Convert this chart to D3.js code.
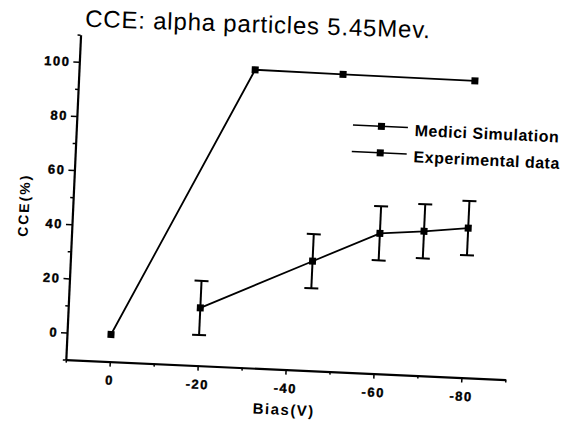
<!DOCTYPE html>
<html>
<head>
<meta charset="utf-8">
<script src="https://cdn.jsdelivr.net/npm/d3@7"></script>
<style>
  body { margin: 0; background: #fff; }
  svg { display: block; }
  .tick text { font-family: "Liberation Sans", Arial, sans-serif; font-weight: bold; font-size: 13px; letter-spacing: 1.5px; stroke: #000; stroke-width: 0.4px; }
</style>
</head>
<body>
<svg width="567" height="422"></svg>
<script>
// values
const simBias = [ 0, -30, -50, -80 ];
const simCCE = [ 0, 100, 99.8, 99.6 ];
const expBias = [ -20, -45, -60, -70, -80 ];
const expCCE = [ 11.3, 30.4, 41.8, 43.3, 45.2 ];
const expErr = [ 10, 10, 10, 10, 10 ];
const xTicks = [ 0, -20, -40, -60, -80 ];
const xMinor = [ 10, -10, -30, -50, -70, -90 ];
const yTicks = [ 0, 20, 40, 60, 80, 100 ];
const yMinor = [ -10, 10, 30, 50, 70, 90, 110 ];
const legendLabels = [ 'Medici Simulation', 'Experimental data' ];

const svgWidth = 567;
const svgHeight = 422;
const tilt = 2.6;   // the scan is a little crooked

const svg = d3.select( 'svg' );

// title sits on its own slant
svg.append( 'text' )
  .attr( 'x', 85 )
  .attr( 'y', 26.7 )
  .attr( 'transform', 'rotate(1.9, 85, 26.7)' )
  .style( 'font-family', '"Liberation Sans", Arial, sans-serif' )
  .style( 'font-size', '24px' )
  .style( 'letter-spacing', '0.8px' )
  .text( 'CCE: alpha particles 5.45Mev.' );

const g = svg.append( 'g' )
  .attr( 'transform', 'rotate(' + tilt + ', 283, 211)' );

const x = d3.scaleLinear().domain( [ 10, -90 ] ).range( [ 72.8, 512.8 ] );
const y = d3.scaleLinear().domain( [ -10, 110 ] ).range( [ 369.3, 44.1 ] );

// plain hyphen like the original, not the unicode minus
const plain = d => String( d );

// minor ticks first, then the labelled ones
g.append( 'g' )
  .attr( 'transform', 'translate(0,' + y( -10 ) + ')' )
  .call( d3.axisBottom( x ).tickValues( xMinor ).tickSize( 3 ).tickFormat( '' ) )
  .call( a => a.select( '.domain' ).remove() )
  .selectAll( 'line' ).attr( 'stroke-width', 1.5 );

g.append( 'g' )
  .attr( 'transform', 'translate(' + x( 10 ) + ',0)' )
  .call( d3.axisLeft( y ).tickValues( yMinor ).tickSize( 3 ).tickFormat( '' ) )
  .call( a => a.select( '.domain' ).remove() )
  .selectAll( 'line' ).attr( 'stroke-width', 1.5 );

const xAxis = g.append( 'g' )
  .attr( 'transform', 'translate(0,' + y( -10 ) + ')' )
  .call( d3.axisBottom( x ).tickValues( xTicks ).tickFormat( plain ).tickSize( 5 ).tickSizeOuter( 0 ).tickPadding( 9 ) );
xAxis.select( '.domain' ).attr( 'stroke-width', 2.2 );
xAxis.selectAll( 'line' ).attr( 'stroke-width', 1.5 );

const yAxis = g.append( 'g' )
  .attr( 'transform', 'translate(' + x( 10 ) + ',0)' )
  .call( d3.axisLeft( y ).tickValues( yTicks ).tickFormat( plain ).tickSize( 6 ).tickSizeOuter( 0 ).tickPadding( 3 ) );
yAxis.select( '.domain' ).attr( 'stroke-width', 2.2 );
yAxis.selectAll( 'line' ).attr( 'stroke-width', 1.5 );

// axis titles
g.append( 'text' )
  .attr( 'x', ( x( 10 ) + x( -90 ) ) / 2 )
  .attr( 'y', 414.7 )
  .attr( 'text-anchor', 'middle' )
  .style( 'font-family', '"Liberation Sans", Arial, sans-serif' )
  .style( 'font-weight', 'bold' )
  .style( 'font-size', '15px' )
  .style( 'letter-spacing', '1.5px' )
  .text( 'Bias(V)' );

g.append( 'text' )
  .attr( 'transform', 'translate(29,217) rotate(-90)' )
  .attr( 'text-anchor', 'middle' )
  .style( 'font-family', '"Liberation Sans", Arial, sans-serif' )
  .style( 'font-weight', 'bold' )
  .style( 'font-size', '14px' )
  .style( 'letter-spacing', '2px' )
  .text( 'CCE(%)' );

const sim = simBias.map( ( d, i ) => ( { bias: d, cce: simCCE[ i ] } ) );
const exp = expBias.map( ( d, i ) => ( { bias: d, cce: expCCE[ i ], err: expErr[ i ] } ) );

const line = d3.line()
  .x( d => x( d.bias ) )
  .y( d => y( d.cce ) );

// error bars
const bars = g.selectAll( '.err' )
  .data( exp )
  .join( 'g' )
  .attr( 'class', 'err' )
  .attr( 'stroke', '#000' )
  .attr( 'stroke-width', 2 );
bars.append( 'line' )
  .attr( 'x1', d => x( d.bias ) ).attr( 'x2', d => x( d.bias ) )
  .attr( 'y1', d => y( d.cce - d.err ) ).attr( 'y2', d => y( d.cce + d.err ) );
bars.append( 'line' )
  .attr( 'x1', d => x( d.bias ) - 7 ).attr( 'x2', d => x( d.bias ) + 7 )
  .attr( 'y1', d => y( d.cce + d.err ) ).attr( 'y2', d => y( d.cce + d.err ) );
bars.append( 'line' )
  .attr( 'x1', d => x( d.bias ) - 7 ).attr( 'x2', d => x( d.bias ) + 7 )
  .attr( 'y1', d => y( d.cce - d.err ) ).attr( 'y2', d => y( d.cce - d.err ) );

[ sim, exp ].forEach( series => {
  g.append( 'path' )
    .datum( series )
    .attr( 'fill', 'none' )
    .attr( 'stroke', '#000' )
    .attr( 'stroke-width', 1.8 )
    .attr( 'd', line );

  g.selectAll( null )
    .data( series )
    .join( 'rect' )
    .attr( 'x', d => x( d.bias ) - 3.5 )
    .attr( 'y', d => y( d.cce ) - 3.5 )
    .attr( 'width', 7 )
    .attr( 'height', 7 )
    .attr( 'fill', '#000' );
} );

// legend
const legend = g.selectAll( '.legend' )
  .data( legendLabels )
  .join( 'g' )
  .attr( 'class', 'legend' )
  .attr( 'transform', ( d, i ) => 'translate(349,' + ( 122 + i * 26.5 ) + ')' );

legend.append( 'line' )
  .attr( 'x1', 0 ).attr( 'x2', 55 )
  .attr( 'stroke', '#000' )
  .attr( 'stroke-width', 1.5 );
legend.append( 'rect' )
  .attr( 'x', 25 ).attr( 'y', -3.5 )
  .attr( 'width', 7 ).attr( 'height', 7 )
  .attr( 'fill', '#000' );
legend.append( 'text' )
  .attr( 'x', 62 )
  .attr( 'y', 8 )
  .style( 'font-family', '"Liberation Sans", Arial, sans-serif' )
  .style( 'font-weight', 'bold' )
  .style( 'font-size', '16px' )
  .style( 'letter-spacing', '0.5px' )
  .text( d => d );
</script>
</body>
</html>
